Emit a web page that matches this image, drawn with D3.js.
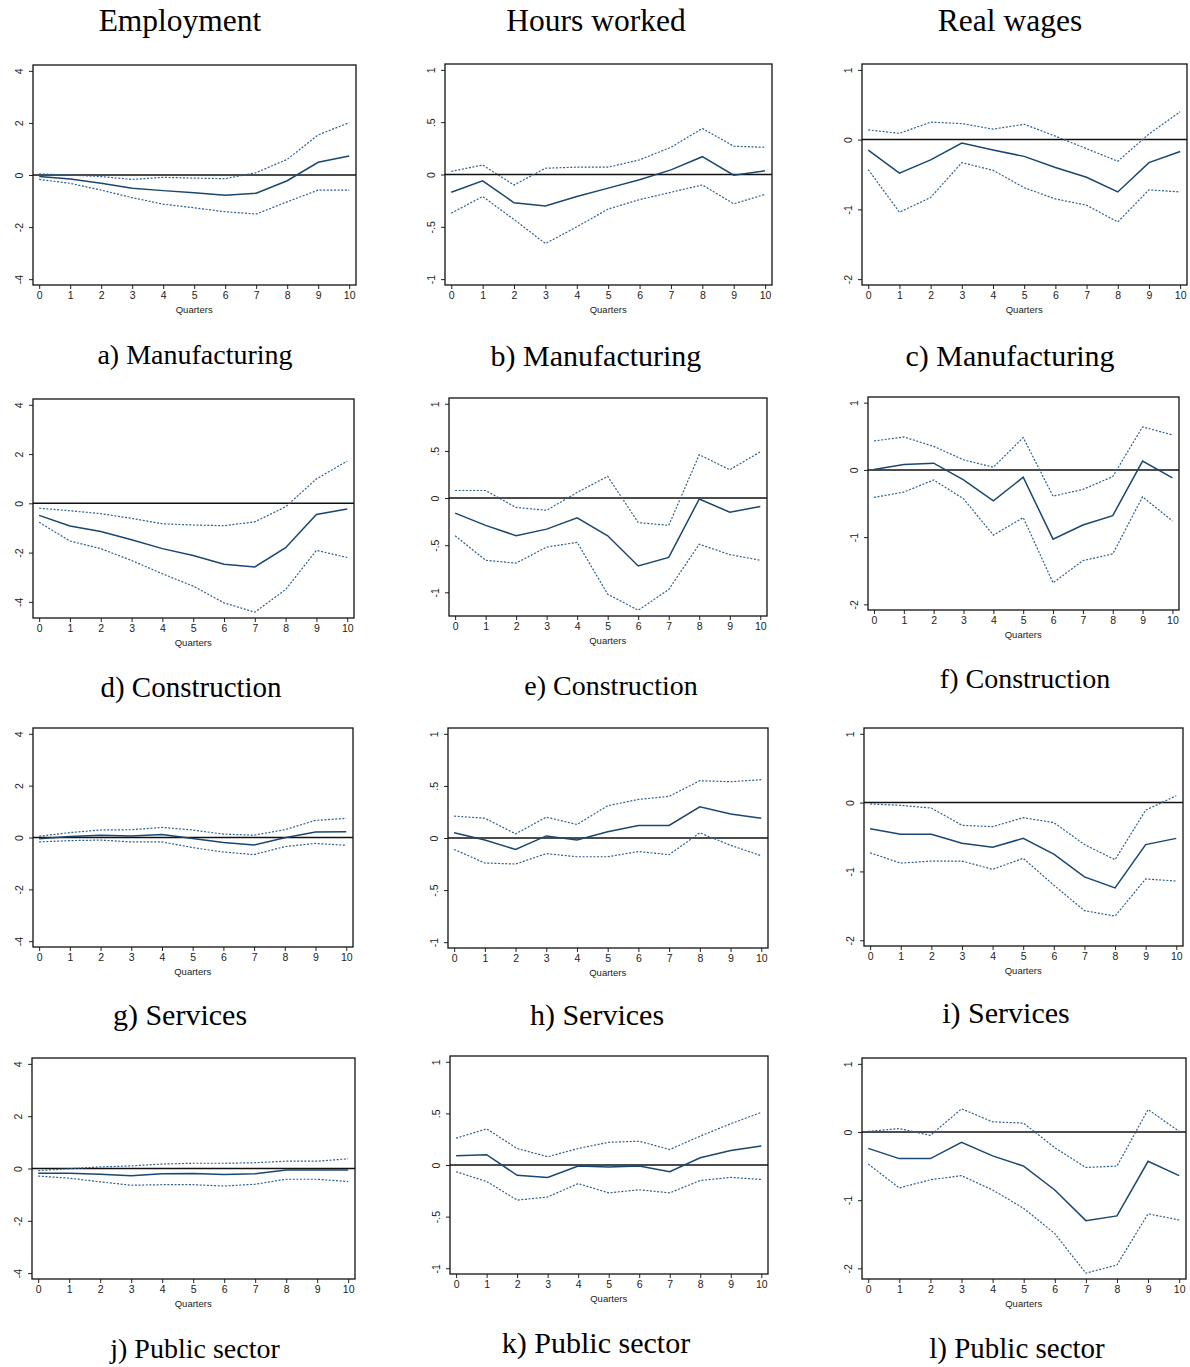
<!DOCTYPE html>
<html>
<head>
<meta charset="utf-8">
<script src="https://cdn.jsdelivr.net/npm/d3@7"></script>
<style>
  html, body { margin: 0; padding: 0; background: #fff; }
  svg { display: block; }
</style>
</head>
<body>
<svg id="chart" width="1190" height="1367"></svg>
<script>
// Impulse responses by sector: point estimate with upper and lower bands
const variables = ["Employment", "Hours worked", "Real wages"];
const sectors = ["Manufacturing", "Construction", "Services", "Public sector"];
const quarters = [0, 1, 2, 3, 4, 5, 6, 7, 8, 9, 10];

const employmentTicks = [-4, -2, 0, 2, 4];
const hoursTicks = [-1, -0.5, 0, 0.5, 1];
const wagesTicks = [-2, -1, 0, 1];

// Employment: rows = Manufacturing, Construction, Services, Public sector
const employmentIrf = [
  [-0.06, -0.15, -0.32, -0.51, -0.60, -0.68, -0.78, -0.70, -0.22, 0.49, 0.73],
  [-0.49, -0.92, -1.14, -1.48, -1.84, -2.12, -2.47, -2.58, -1.80, -0.45, -0.23],
  [-0.05, 0.04, 0.09, 0.06, 0.12, -0.04, -0.19, -0.29, -0.01, 0.21, 0.22],
  [-0.18, -0.18, -0.22, -0.28, -0.20, -0.19, -0.23, -0.20, -0.06, -0.06, -0.06]
];
const employmentUpper = [
  [0.04, 0.00, -0.06, -0.17, -0.09, -0.12, -0.14, 0.09, 0.60, 1.54, 2.01],
  [-0.20, -0.30, -0.42, -0.61, -0.83, -0.88, -0.91, -0.75, -0.14, 0.99, 1.72],
  [0.05, 0.19, 0.29, 0.30, 0.39, 0.29, 0.13, 0.09, 0.30, 0.66, 0.74],
  [-0.08, -0.01, 0.06, 0.10, 0.17, 0.20, 0.20, 0.22, 0.28, 0.28, 0.37]
];
const employmentLower = [
  [-0.17, -0.32, -0.58, -0.87, -1.12, -1.26, -1.41, -1.50, -1.03, -0.58, -0.58],
  [-0.77, -1.53, -1.84, -2.32, -2.86, -3.36, -4.04, -4.42, -3.50, -1.91, -2.20],
  [-0.17, -0.12, -0.10, -0.17, -0.17, -0.39, -0.56, -0.66, -0.35, -0.23, -0.30],
  [-0.29, -0.37, -0.51, -0.64, -0.62, -0.62, -0.67, -0.60, -0.41, -0.41, -0.50]
];

// Hours worked
const hoursIrf = [
  [-0.17, -0.06, -0.27, -0.30, -0.21, -0.13, -0.05, 0.044, 0.17, -0.006, 0.035],
  [-0.16, -0.29, -0.40, -0.33, -0.21, -0.40, -0.72, -0.63, -0.01, -0.15, -0.09],
  [0.05, -0.02, -0.11, 0.02, -0.02, 0.06, 0.12, 0.12, 0.30, 0.23, 0.19],
  [0.09, 0.10, -0.10, -0.12, -0.01, -0.02, -0.01, -0.065, 0.07, 0.14, 0.185]
];
const hoursUpper = [
  [0.03, 0.09, -0.10, 0.06, 0.07, 0.07, 0.14, 0.26, 0.44, 0.27, 0.26],
  [0.08, 0.08, -0.10, -0.13, 0.06, 0.23, -0.26, -0.29, 0.46, 0.30, 0.49],
  [0.21, 0.19, 0.04, 0.20, 0.13, 0.31, 0.37, 0.40, 0.55, 0.54, 0.56],
  [0.26, 0.35, 0.16, 0.08, 0.16, 0.22, 0.23, 0.15, 0.28, 0.40, 0.51]
];
const hoursLower = [
  [-0.37, -0.21, -0.43, -0.66, -0.50, -0.33, -0.24, -0.17, -0.10, -0.28, -0.19],
  [-0.40, -0.66, -0.69, -0.52, -0.47, -1.02, -1.19, -0.97, -0.49, -0.60, -0.66],
  [-0.11, -0.24, -0.25, -0.15, -0.18, -0.18, -0.13, -0.16, 0.05, -0.07, -0.17],
  [-0.065, -0.16, -0.34, -0.31, -0.18, -0.27, -0.24, -0.27, -0.15, -0.12, -0.14]
];

// Real wages
const wagesIrf = [
  [-0.15, -0.48, -0.29, -0.05, -0.15, -0.24, -0.40, -0.54, -0.75, -0.33, -0.17],
  [0.005, 0.08, 0.10, -0.15, -0.46, -0.11, -1.03, -0.82, -0.68, 0.13, -0.12],
  [-0.38, -0.46, -0.46, -0.59, -0.65, -0.52, -0.75, -1.08, -1.24, -0.61, -0.52],
  [-0.24, -0.39, -0.39, -0.15, -0.35, -0.50, -0.85, -1.30, -1.23, -0.43, -0.64]
];
const wagesUpper = [
  [0.14, 0.09, 0.25, 0.23, 0.15, 0.22, 0.05, -0.13, -0.31, 0.08, 0.40],
  [0.43, 0.49, 0.35, 0.15, 0.04, 0.48, -0.39, -0.29, -0.10, 0.64, 0.52],
  [-0.02, -0.04, -0.08, -0.33, -0.35, -0.22, -0.29, -0.61, -0.83, -0.11, 0.10],
  [0.01, 0.05, -0.05, 0.34, 0.15, 0.13, -0.23, -0.52, -0.50, 0.33, 0.01]
];
const wagesLower = [
  [-0.43, -1.04, -0.83, -0.33, -0.44, -0.69, -0.85, -0.94, -1.18, -0.72, -0.75],
  [-0.41, -0.33, -0.15, -0.43, -0.97, -0.71, -1.68, -1.35, -1.25, -0.40, -0.76],
  [-0.73, -0.88, -0.85, -0.85, -0.97, -0.81, -1.20, -1.57, -1.65, -1.11, -1.14],
  [-0.47, -0.82, -0.70, -0.64, -0.85, -1.12, -1.49, -2.07, -1.95, -1.20, -1.29]
];

const columnData = [
  { ticks: employmentTicks, irf: employmentIrf, upper: employmentUpper, lower: employmentLower },
  { ticks: hoursTicks, irf: hoursIrf, upper: hoursUpper, lower: hoursLower },
  { ticks: wagesTicks, irf: wagesIrf, upper: wagesUpper, lower: wagesLower }
];

// Plot-region frames [left, top, right, bottom] for each row, column
const frames = [
  [[33, 65, 356, 285], [445, 64, 772, 285], [862, 64, 1187, 285]],
  [[33, 399, 354, 618], [449, 398, 767, 616], [868, 397, 1179, 610]],
  [[33, 728, 353, 947], [448, 728, 768, 948], [864, 728, 1183, 946]],
  [[32, 1058, 355, 1279], [450, 1056, 768, 1274], [862, 1058, 1186, 1279]]
];
// Caption anchors [x, baseline, font size] for each row, column
const captionPos = [
  [[195, 364, 28], [596, 366, 30], [1010, 366, 30]],
  [[191, 697, 29], [611, 695, 28], [1025, 688, 28]],
  [[180, 1025, 30], [597, 1025, 30], [1006, 1023, 30]],
  [[195, 1358, 28], [596, 1353, 30], [1017, 1358, 29]]
];
const headerPos = [[180, 31], [596, 31], [1010, 31]];

const svg = d3.select("#chart");
const serif = "'Liberation Serif', 'Times New Roman', serif";
const sans = "'Liberation Sans', Arial, sans-serif";
const navy = "#1a476f";
const bandColor = "#2f5f8f";
const fmt = d => (d === 0 ? "0" : String(d).replace("0.", "."));

// column headers
svg.selectAll("text.header")
  .data(variables)
  .enter().append("text")
  .attr("class", "header")
  .attr("x", (d, i) => headerPos[i][0])
  .attr("y", (d, i) => headerPos[i][1])
  .attr("text-anchor", "middle")
  .style("font-family", serif)
  .style("font-size", "31.5px")
  .text(d => d);

sectors.forEach((sector, r) => {
  variables.forEach((variable, c) => {
    const cd = columnData[c];
    const [x0, y0, x1, y1] = frames[r][c];
    const letter = "abcdefghijkl"[r * 3 + c];

    const irf = cd.irf[r], up = cd.upper[r], lo = cd.lower[r];
    const tmin = d3.min(cd.ticks), tmax = d3.max(cd.ticks);
    const dmin = Math.min(tmin, d3.min(lo)), dmax = Math.max(tmax, d3.max(up));
    const pad = (dmax - dmin) * 0.028;

    const x = d3.scaleLinear().domain([-0.2, 10.22]).range([x0, x1]);
    const y = d3.scaleLinear().domain([dmin - pad, dmax + pad]).range([y1, y0]);

    const g = svg.append("g");

    // y axis with labels turned on their side
    const yAxis = g.append("g")
      .attr("transform", `translate(${x0},0)`)
      .call(d3.axisLeft(y).tickValues(cd.ticks).tickFormat(fmt).tickSize(4).tickSizeOuter(0));
    yAxis.select(".domain").remove();
    yAxis.selectAll("line").attr("stroke", "#222");
    yAxis.selectAll("text")
      .attr("x", null).attr("dy", null).attr("y", 0)
      .attr("transform", "translate(-14,0) rotate(-90)")
      .attr("text-anchor", "middle")
      .attr("dominant-baseline", "central")
      .style("font-family", sans)
      .style("font-size", "10.5px")
      .attr("fill", "#222");

    // x axis
    const xAxis = g.append("g")
      .attr("transform", `translate(0,${y1})`)
      .call(d3.axisBottom(x).tickValues(quarters).tickFormat(d3.format("d")).tickSize(4).tickSizeOuter(0));
    xAxis.select(".domain").remove();
    xAxis.selectAll("line").attr("stroke", "#222");
    xAxis.selectAll("text")
      .attr("y", 7)
      .style("font-family", sans)
      .style("font-size", "10.5px")
      .attr("fill", "#222");

    g.append("text")
      .attr("x", x(5))
      .attr("y", y1 + 28)
      .attr("text-anchor", "middle")
      .style("font-family", sans)
      .style("font-size", "9.5px")
      .attr("fill", "#222")
      .text("Quarters");

    // zero reference line
    g.append("line")
      .attr("x1", x0).attr("x2", x1)
      .attr("y1", y(0)).attr("y2", y(0))
      .attr("stroke", "#111")
      .attr("stroke-width", 1.5);

    const line = d3.line().x((d, i) => x(quarters[i])).y(d => y(d));

    [up, lo].forEach(band => {
      g.append("path")
        .datum(band)
        .attr("d", line)
        .attr("fill", "none")
        .attr("stroke", bandColor)
        .attr("stroke-width", 1.2)
        .attr("stroke-dasharray", "2,1.6");
    });

    g.append("path")
      .datum(irf)
      .attr("d", line)
      .attr("fill", "none")
      .attr("stroke", navy)
      .attr("stroke-width", 1.5);

    // plot frame
    g.append("rect")
      .attr("x", x0).attr("y", y0)
      .attr("width", x1 - x0).attr("height", y1 - y0)
      .attr("fill", "none")
      .attr("stroke", "#111")
      .attr("stroke-width", 1.3);

    // caption
    const cp = captionPos[r][c];
    svg.append("text")
      .attr("x", cp[0])
      .attr("y", cp[1])
      .attr("text-anchor", "middle")
      .style("font-family", serif)
      .style("font-size", cp[2] + "px")
      .text(`${letter}) ${sector}`);
  });
});
</script>
</body>
</html>
